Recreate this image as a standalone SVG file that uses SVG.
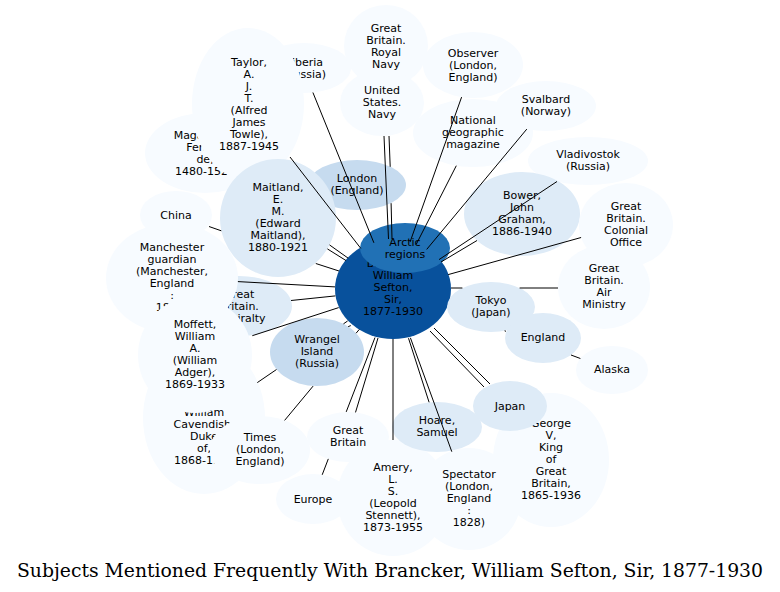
<svg xmlns="http://www.w3.org/2000/svg" width="780" height="592" viewBox="0 0 780 592">
<style>
.f0{fill:#f7fbff}.f1{fill:#deebf7}.f2{fill:#c6dbef}.f3{fill:#2171b5}.f4{fill:#08519c}
.l{font-family:"DejaVu Sans","Liberation Sans",sans-serif;font-size:11px;text-anchor:middle;fill:#000}
#edges line{stroke:#000;stroke-width:1}
.t{font-family:"DejaVu Serif","Liberation Serif",serif;font-size:18px;font-stretch:condensed;fill:#000}
</style>
<rect width="780" height="592" fill="#fff"/>
<g id="node-siberia"><ellipse class="f0" cx="304" cy="68" rx="47" ry="25"/><text class="l" y="66"><tspan x="304">Siberia</tspan><tspan x="304" dy="12">(Russia)</tspan></text></g>
<g id="node-magellan"><ellipse class="f0" cx="205" cy="153" rx="60" ry="40"/><text class="l" y="139"><tspan x="205">Magalhães,</tspan><tspan x="205" dy="12">Fernão</tspan><tspan x="205" dy="12">de,</tspan><tspan x="205" dy="12">1480-1521</tspan></text></g>
<g id="node-gb-royal-navy"><ellipse class="f0" cx="386" cy="46" rx="42" ry="41"/><text class="l" y="32"><tspan x="386">Great</tspan><tspan x="386" dy="12">Britain.</tspan><tspan x="386" dy="12">Royal</tspan><tspan x="386" dy="12">Navy</tspan></text></g>
<g id="node-us-navy"><ellipse class="f0" cx="382" cy="103" rx="42" ry="33"/><text class="l" y="94"><tspan x="382">United</tspan><tspan x="382" dy="12">States.</tspan><tspan x="382" dy="12">Navy</tspan></text></g>
<g id="node-observer"><ellipse class="f0" cx="473" cy="65" rx="50" ry="33"/><text class="l" y="57"><tspan x="473">Observer</tspan><tspan x="473" dy="12">(London,</tspan><tspan x="473" dy="12">England)</tspan></text></g>
<g id="node-natgeo"><ellipse class="f0" cx="473" cy="133" rx="60" ry="34"/><text class="l" y="124"><tspan x="473">National</tspan><tspan x="473" dy="12">geographic</tspan><tspan x="473" dy="12">magazine</tspan></text></g>
<g id="node-svalbard"><ellipse class="f0" cx="546" cy="106" rx="50" ry="25"/><text class="l" y="103"><tspan x="546">Svalbard</tspan><tspan x="546" dy="12">(Norway)</tspan></text></g>
<g id="node-vladivostok"><ellipse class="f0" cx="588" cy="161" rx="60" ry="24"/><text class="l" y="158"><tspan x="588">Vladivostok</tspan><tspan x="588" dy="12">(Russia)</tspan></text></g>
<g id="node-london"><ellipse class="f2" cx="357" cy="185" rx="49" ry="25"/><text class="l" y="182"><tspan x="357">London</tspan><tspan x="357" dy="12">(England)</tspan></text></g>
<g id="node-taylor"><ellipse class="f0" cx="248" cy="104" rx="56" ry="76"/><text class="l" y="66"><tspan x="249">Taylor,</tspan><tspan x="249" dy="12">A.</tspan><tspan x="249" dy="12">J.</tspan><tspan x="249" dy="12">T.</tspan><tspan x="249" dy="12">(Alfred</tspan><tspan x="249" dy="12">James</tspan><tspan x="249" dy="12">Towle),</tspan><tspan x="249" dy="12">1887-1945</tspan></text></g>
<g id="node-maitland"><ellipse class="f1" cx="278" cy="218" rx="58" ry="59"/><text class="l" y="191"><tspan x="278">Maitland,</tspan><tspan x="278" dy="12">E.</tspan><tspan x="278" dy="12">M.</tspan><tspan x="278" dy="12">(Edward</tspan><tspan x="278" dy="12">Maitland),</tspan><tspan x="278" dy="12">1880-1921</tspan></text></g>
<g id="node-china"><ellipse class="f0" cx="176" cy="215" rx="36" ry="24"/><text class="l" x="176" y="219">China</text></g>
<g id="node-bower"><ellipse class="f1" cx="522" cy="214" rx="58" ry="42"/><text class="l" y="199"><tspan x="522">Bower,</tspan><tspan x="522" dy="12">John</tspan><tspan x="522" dy="12">Graham,</tspan><tspan x="522" dy="12">1886-1940</tspan></text></g>
<g id="node-air-ministry"><ellipse class="f0" cx="604" cy="287" rx="46" ry="42"/><text class="l" y="272"><tspan x="604">Great</tspan><tspan x="604" dy="12">Britain.</tspan><tspan x="604" dy="12">Air</tspan><tspan x="604" dy="12">Ministry</tspan></text></g>
<g id="node-colonial-office"><ellipse class="f0" cx="626" cy="225" rx="47" ry="42"/><text class="l" y="210"><tspan x="626">Great</tspan><tspan x="626" dy="12">Britain.</tspan><tspan x="626" dy="12">Colonial</tspan><tspan x="626" dy="12">Office</tspan></text></g>
<g id="node-brancker"><ellipse class="f4" cx="393" cy="289" rx="58" ry="50"/><text class="l" y="267"><tspan x="393">Brancker,</tspan><tspan x="393" dy="12">William</tspan><tspan x="393" dy="12">Sefton,</tspan><tspan x="393" dy="12">Sir,</tspan><tspan x="393" dy="12">1877-1930</tspan></text></g>
<g id="node-arctic"><ellipse class="f3" cx="405" cy="248" rx="45" ry="25"/><text class="l" y="245.5"><tspan x="405">Arctic</tspan><tspan x="405" dy="12">regions</tspan></text></g>
<g id="node-tokyo"><ellipse class="f1" cx="491" cy="307" rx="44" ry="25"/><text class="l" y="304"><tspan x="491">Tokyo</tspan><tspan x="491" dy="12">(Japan)</tspan></text></g>
<g id="node-england"><ellipse class="f1" cx="543" cy="338" rx="38" ry="25"/><text class="l" x="543" y="341">England</text></g>
<g id="node-alaska"><ellipse class="f0" cx="612" cy="370" rx="36" ry="24"/><text class="l" x="612" y="373">Alaska</text></g>
<g id="node-george-v"><ellipse class="f0" cx="551" cy="460" rx="58" ry="67"/><text class="l" y="427"><tspan x="551">George</tspan><tspan x="551" dy="12">V,</tspan><tspan x="551" dy="12">King</tspan><tspan x="551" dy="12">of</tspan><tspan x="551" dy="12">Great</tspan><tspan x="551" dy="12">Britain,</tspan><tspan x="551" dy="12">1865-1936</tspan></text></g>
<g id="node-japan"><ellipse class="f1" cx="510" cy="406" rx="37" ry="25"/><text class="l" x="510" y="410">Japan</text></g>
<g id="node-amery"><ellipse class="f0" cx="393" cy="498" rx="56" ry="58"/><text class="l" y="471"><tspan x="393">Amery,</tspan><tspan x="393" dy="12">L.</tspan><tspan x="393" dy="12">S.</tspan><tspan x="393" dy="12">(Leopold</tspan><tspan x="393" dy="12">Stennett),</tspan><tspan x="393" dy="12">1873-1955</tspan></text></g>
<g id="node-great-britain"><ellipse class="f0" cx="348" cy="437" rx="41" ry="25"/><text class="l" y="434"><tspan x="348">Great</tspan><tspan x="348" dy="12">Britain</tspan></text></g>
<g id="node-europe"><ellipse class="f0" cx="313" cy="499" rx="37" ry="25"/><text class="l" x="313" y="503">Europe</text></g>
<g id="node-spectator"><ellipse class="f0" cx="469" cy="499" rx="52" ry="51"/><text class="l" y="478"><tspan x="469">Spectator</tspan><tspan x="469" dy="12">(London,</tspan><tspan x="469" dy="12">England</tspan><tspan x="469" dy="12">:</tspan><tspan x="469" dy="12">1828)</tspan></text></g>
<g id="node-hoare"><ellipse class="f1" cx="437" cy="427" rx="45" ry="25"/><text class="l" y="424"><tspan x="437">Hoare,</tspan><tspan x="437" dy="12">Samuel</tspan></text></g>
<g id="node-admiralty"><ellipse class="f1" cx="239" cy="306" rx="53" ry="30"/><text class="l" y="298"><tspan x="239">Great</tspan><tspan x="239" dy="12">Britain.</tspan><tspan x="239" dy="12">Admiralty</tspan></text></g>
<g id="node-manchester"><ellipse class="f0" cx="172" cy="278" rx="66" ry="55"/><text class="l" y="251"><tspan x="172">Manchester</tspan><tspan x="172" dy="12">guardian</tspan><tspan x="172" dy="12">(Manchester,</tspan><tspan x="172" dy="12">England</tspan><tspan x="172" dy="12">:</tspan><tspan x="172" dy="12">1821)</tspan></text></g>
<g id="node-devonshire"><ellipse class="f0" cx="204" cy="418" rx="61" ry="76"/><text class="l" y="415.7"><tspan x="204">William</tspan><tspan x="204" dy="12">Cavendish,</tspan><tspan x="204" dy="12">Duke</tspan><tspan x="204" dy="12">of,</tspan><tspan x="204" dy="12">1868-1938</tspan></text></g>
<g id="node-moffett"><ellipse class="f0" cx="195" cy="355" rx="57" ry="58"/><text class="l" y="327.7"><tspan x="195">Moffett,</tspan><tspan x="195" dy="12">William</tspan><tspan x="195" dy="12">A.</tspan><tspan x="195" dy="12">(William</tspan><tspan x="195" dy="12">Adger),</tspan><tspan x="195" dy="12">1869-1933</tspan></text></g>
<g id="node-times"><ellipse class="f0" cx="260" cy="450" rx="50" ry="34"/><text class="l" y="441"><tspan x="260">Times</tspan><tspan x="260" dy="12">(London,</tspan><tspan x="260" dy="12">England)</tspan></text></g>
<g id="node-wrangel"><ellipse class="f2" cx="317" cy="352" rx="47" ry="34"/><text class="l" y="343"><tspan x="317">Wrangel</tspan><tspan x="317" dy="12">Island</tspan><tspan x="317" dy="12">(Russia)</tspan></text></g>
<g id="edges">
<line x1="312.9" y1="92.5" x2="373.9" y2="242.8"/>
<line x1="290" y1="157" x2="360.8" y2="248.4"/>
<line x1="384" y1="136" x2="388.5" y2="239"/>
<line x1="389" y1="136" x2="390.2" y2="166.8"/>
<line x1="391.1" y1="203.2" x2="392" y2="239"/>
<line x1="461.6" y1="97.1" x2="410" y2="242.1"/>
<line x1="456.3" y1="165.7" x2="416.3" y2="244.2"/>
<line x1="526.8" y1="129.1" x2="426.7" y2="249.4"/>
<line x1="557" y1="181.5" x2="439" y2="259.6"/>
<line x1="477" y1="240.5" x2="441" y2="262"/>
<line x1="581.1" y1="237.5" x2="448.2" y2="274.6"/>
<line x1="451" y1="288" x2="462.4" y2="288"/>
<line x1="519.6" y1="288" x2="558" y2="288"/>
<line x1="504.6" y1="330.8" x2="506" y2="331.3"/>
<line x1="571" y1="355" x2="580.4" y2="358.5"/>
<line x1="430" y1="331" x2="484" y2="387"/>
<line x1="434" y1="328" x2="490" y2="384"/>
<line x1="410.4" y1="337.8" x2="451.8" y2="451.7"/>
<line x1="408.5" y1="338.2" x2="429.1" y2="402.3"/>
<line x1="393" y1="339" x2="393" y2="440"/>
<line x1="378" y1="338" x2="355.5" y2="412.4"/>
<line x1="375" y1="337.5" x2="346.2" y2="411.9"/>
<line x1="328.3" y1="458.9" x2="322.2" y2="474.8"/>
<line x1="359.3" y1="329.4" x2="356.1" y2="333.2"/>
<line x1="313.1" y1="386.1" x2="284.6" y2="420.4"/>
<line x1="348.2" y1="326.6" x2="350.8" y2="325.6"/>
<line x1="347.6" y1="321" x2="343.5" y2="323.8"/>
<line x1="276.5" y1="369.5" x2="257.3" y2="382.6"/>
<line x1="338.7" y1="307.6" x2="252.3" y2="335.7"/>
<line x1="335.4" y1="295.9" x2="291" y2="300.5"/>
<line x1="335.1" y1="286.9" x2="237.9" y2="281.6"/>
<line x1="339" y1="271" x2="315.8" y2="263.5"/>
<line x1="221.3" y1="230.8" x2="209" y2="226.5"/>
<line x1="346.1" y1="260.6" x2="327.4" y2="248.9"/>
<line x1="348.2" y1="258.2" x2="329.5" y2="244.9"/>
</g>
<text class="t" x="17" y="577" textLength="746" lengthAdjust="spacingAndGlyphs">Subjects Mentioned Frequently With Brancker, William Sefton, Sir, 1877-1930</text>
</svg>
